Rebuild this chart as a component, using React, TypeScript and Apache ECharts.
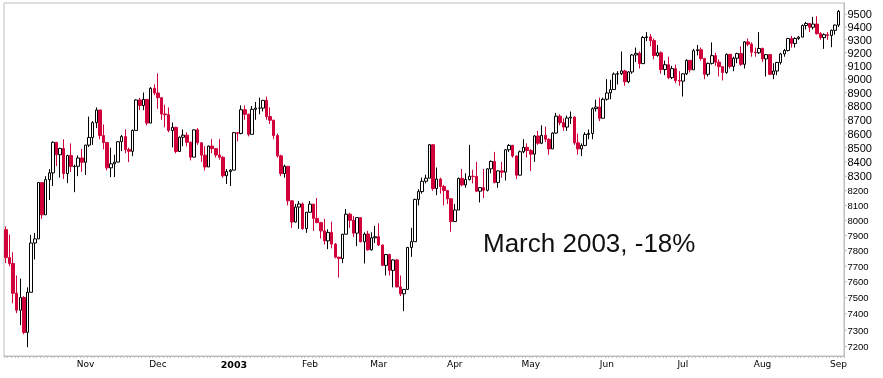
import React, { useEffect, useRef } from "react";
import * as echarts from "echarts";

const dates = [
  "2002-10-02","2002-10-03","2002-10-04","2002-10-07","2002-10-08","2002-10-09","2002-10-10","2002-10-11","2002-10-14","2002-10-15","2002-10-16","2002-10-17","2002-10-18","2002-10-21","2002-10-22","2002-10-23","2002-10-24","2002-10-25","2002-10-28","2002-10-29","2002-10-30","2002-10-31",
  "2002-11-01","2002-11-04","2002-11-05","2002-11-06","2002-11-07","2002-11-08","2002-11-11","2002-11-12","2002-11-13","2002-11-14","2002-11-15","2002-11-18","2002-11-19","2002-11-20","2002-11-21","2002-11-22","2002-11-25","2002-11-26","2002-11-27","2002-11-29",
  "2002-12-02","2002-12-03","2002-12-04","2002-12-05","2002-12-06","2002-12-09","2002-12-10","2002-12-11","2002-12-12","2002-12-13","2002-12-16","2002-12-17","2002-12-18","2002-12-19","2002-12-20","2002-12-23","2002-12-24","2002-12-26","2002-12-27","2002-12-30","2002-12-31",
  "2003-01-02","2003-01-03","2003-01-06","2003-01-07","2003-01-08","2003-01-09","2003-01-10","2003-01-13","2003-01-14","2003-01-15","2003-01-16","2003-01-17","2003-01-21","2003-01-22","2003-01-23","2003-01-24","2003-01-27","2003-01-28","2003-01-29","2003-01-30","2003-01-31",
  "2003-02-03","2003-02-04","2003-02-05","2003-02-06","2003-02-07","2003-02-10","2003-02-11","2003-02-12","2003-02-13","2003-02-14","2003-02-18","2003-02-19","2003-02-20","2003-02-21","2003-02-24","2003-02-25","2003-02-26","2003-02-27","2003-02-28",
  "2003-03-03","2003-03-04","2003-03-05","2003-03-06","2003-03-07","2003-03-10","2003-03-11","2003-03-12","2003-03-13","2003-03-14","2003-03-17","2003-03-18","2003-03-19","2003-03-20","2003-03-21","2003-03-24","2003-03-25","2003-03-26","2003-03-27","2003-03-28","2003-03-31",
  "2003-04-01","2003-04-02","2003-04-03","2003-04-04","2003-04-07","2003-04-08","2003-04-09","2003-04-10","2003-04-11","2003-04-14","2003-04-15","2003-04-16","2003-04-17","2003-04-21","2003-04-22","2003-04-23","2003-04-24","2003-04-25","2003-04-28","2003-04-29","2003-04-30",
  "2003-05-01","2003-05-02","2003-05-05","2003-05-06","2003-05-07","2003-05-08","2003-05-09","2003-05-12","2003-05-13","2003-05-14","2003-05-15","2003-05-16","2003-05-19","2003-05-20","2003-05-21","2003-05-22","2003-05-23","2003-05-27","2003-05-28","2003-05-29","2003-05-30",
  "2003-06-02","2003-06-03","2003-06-04","2003-06-05","2003-06-06","2003-06-09","2003-06-10","2003-06-11","2003-06-12","2003-06-13","2003-06-16","2003-06-17","2003-06-18","2003-06-19","2003-06-20","2003-06-23","2003-06-24","2003-06-25","2003-06-26","2003-06-27","2003-06-30",
  "2003-07-01","2003-07-02","2003-07-03","2003-07-07","2003-07-08","2003-07-09","2003-07-10","2003-07-11","2003-07-14","2003-07-15","2003-07-16","2003-07-17","2003-07-18","2003-07-21","2003-07-22","2003-07-23","2003-07-24","2003-07-25","2003-07-28","2003-07-29","2003-07-30","2003-07-31",
  "2003-08-01","2003-08-04","2003-08-05","2003-08-06","2003-08-07","2003-08-08","2003-08-11","2003-08-12","2003-08-13","2003-08-14","2003-08-15","2003-08-18","2003-08-19","2003-08-20","2003-08-21","2003-08-22","2003-08-25","2003-08-26","2003-08-27","2003-08-28","2003-08-29",
  "2003-09-02",
];

const opens = [
  7938,7755,7717,7528,7422,7501,7286,7534,7850,7877,8256,8037,8276,8323,8538,8450,8494,8318,8444,8368,8369,8427,
  8397,8518,8572,8679,8771,8586,8537,8358,8386,8398,8542,8579,8486,8474,8623,8845,8804,8849,8676,8931,
  8896,8862,8742,8737,8623,8645,8473,8574,8589,8538,8433,8627,8535,8447,8364,8511,8493,8448,8432,8303,8332,
  8342,8607,8601,8773,8740,8595,8776,8785,8785,8842,8723,8697,8586,8442,8318,8369,8131,7989,8089,8110,7945,
  8054,8109,8013,7985,7930,7864,7920,7843,7758,7749,7908,8041,8000,7915,8018,7858,7909,7806,7884,
  7891,7837,7705,7775,7673,7740,7568,7524,7552,7821,7859,8141,8194,8265,8286,8521,8215,8280,8229,8201,8145,
  7992,8069,8285,8240,8277,8300,8298,8197,8221,8203,8351,8403,8257,8337,8328,8485,8516,8441,8307,8471,8502,
  8480,8454,8583,8531,8588,8560,8491,8604,8726,8679,8647,8713,8719,8534,8491,8516,8594,8601,8781,8793,8711,
  8850,8897,8922,9038,9041,9062,8980,9054,9183,9196,9117,9318,9323,9294,9179,9200,9072,9109,9011,9079,8989,
  8985,9040,9142,9070,9216,9223,9156,9036,9119,9178,9128,9094,9050,9188,9096,9158,9194,9112,9284,9266,9204,9200,
  9233,9153,9186,9036,9061,9126,9191,9217,9310,9272,9310,9321,9412,9428,9398,9423,9348,9317,9340,9333,9374,
  9415,
];

const highs = [
  7960,7905,7790,7640,7620,7510,7565,7903,7916,8256,8256,8300,8349,8545,8540,8500,8559,8450,8530,8380,8445,8490,
  8520,8723,8690,8790,8771,8666,8537,8500,8450,8545,8590,8630,8500,8630,8850,8860,8900,8849,8940,8960,
  9043,8862,8810,8790,8680,8650,8580,8630,8610,8545,8630,8640,8535,8510,8515,8560,8495,8560,8440,8350,8350,
  8610,8610,8805,8805,8745,8800,8830,8862,8845,8870,8790,8700,8600,8450,8380,8370,8135,8110,8130,8120,8056,
  8130,8109,8150,7990,8010,7940,7990,7850,7760,7910,8076,8050,8030,8020,8018,7920,7930,7920,7963,
  7980,7840,7775,7780,7745,7745,7640,7555,7825,7950,8145,8210,8290,8310,8525,8521,8360,8290,8240,8205,8150,
  8110,8290,8350,8320,8520,8345,8400,8225,8350,8355,8410,8470,8340,8400,8490,8525,8520,8445,8480,8560,8530,
  8490,8590,8620,8660,8650,8565,8610,8750,8740,8710,8730,8760,8725,8600,8530,8610,8630,8790,8847,8862,8862,
  9000,8995,9050,9060,9210,9070,9060,9190,9240,9210,9330,9360,9345,9310,9260,9210,9140,9170,9100,9110,9060,
  9045,9150,9145,9230,9260,9240,9160,9125,9280,9200,9150,9100,9195,9190,9170,9200,9250,9290,9310,9280,9240,9360,
  9240,9190,9190,9120,9130,9200,9230,9315,9330,9320,9330,9420,9440,9430,9480,9485,9360,9350,9360,9380,9420,
  9535,
];

const lows = [
  7720,7700,7465,7404,7330,7275,7197,7534,7743,7877,8010,8037,8137,8232,8370,8290,8280,8252,8330,8190,8300,8330,
  8309,8505,8520,8640,8560,8488,8340,8294,8294,8398,8475,8460,8398,8440,8623,8770,8770,8660,8676,8880,
  8781,8700,8645,8610,8502,8460,8473,8510,8510,8410,8433,8520,8400,8340,8364,8460,8430,8415,8290,8246,8232,
  8342,8545,8595,8700,8580,8595,8700,8740,8760,8700,8670,8560,8430,8300,8290,8100,7950,7985,7944,7937,7917,
  8050,7930,7980,7880,7840,7810,7815,7750,7627,7720,7908,7950,7890,7830,7855,7717,7800,7800,7850,
  7830,7700,7640,7640,7565,7565,7510,7416,7552,7760,7859,8100,8180,8250,8286,8200,8170,8180,8100,8110,7924,
  7990,8069,8230,8220,8270,8250,8190,8120,8150,8195,8320,8250,8220,8290,8270,8470,8430,8280,8307,8460,8430,
  8336,8400,8520,8525,8540,8450,8491,8600,8660,8620,8620,8670,8520,8450,8440,8510,8560,8560,8760,8690,8711,
  8840,8850,8920,8960,9030,8950,8970,9040,9130,9080,9117,9290,9250,9150,9170,9040,9030,9000,9000,8970,8950,
  8870,9030,9050,9070,9180,9140,9000,9020,9110,9100,9020,8990,9040,9080,9060,9120,9100,9080,9250,9170,9170,9190,
  9130,9020,9030,9000,9030,9110,9170,9210,9240,9240,9300,9320,9380,9360,9380,9340,9300,9230,9300,9243,9340,
  9400,
];

const closes = [
  7755,7717,7528,7422,7501,7286,7534,7850,7877,8256,8037,8276,8323,8538,8450,8494,8318,8444,8368,8369,8427,8397,
  8518,8572,8679,8771,8586,8537,8358,8386,8398,8542,8579,8486,8474,8623,8845,8804,8849,8676,8931,8896,
  8862,8742,8737,8623,8645,8473,8574,8589,8538,8433,8627,8535,8447,8364,8511,8493,8448,8432,8303,8332,8342,
  8607,8601,8773,8740,8595,8776,8785,8785,8842,8723,8697,8586,8442,8318,8369,8131,7989,8089,8110,7945,8054,
  8109,8013,7985,7930,7864,7920,7843,7758,7749,7908,8041,8000,7915,8018,7858,7909,7806,7884,7891,
  7837,7705,7775,7673,7740,7568,7524,7552,7821,7859,8141,8194,8265,8286,8521,8215,8280,8229,8201,8145,7992,
  8069,8285,8240,8277,8300,8298,8197,8221,8203,8351,8403,8257,8337,8328,8485,8516,8441,8307,8471,8502,8480,
  8454,8583,8531,8588,8560,8491,8604,8726,8679,8647,8713,8719,8534,8491,8516,8594,8601,8781,8793,8711,8850,
  8897,8922,9038,9041,9062,8980,9054,9183,9196,9117,9318,9323,9294,9179,9200,9072,9109,9011,9079,8989,8985,
  9040,9142,9070,9216,9223,9156,9036,9119,9178,9128,9094,9050,9188,9096,9158,9194,9112,9284,9266,9204,9200,9233,
  9153,9186,9036,9061,9126,9191,9217,9310,9272,9310,9321,9412,9428,9398,9423,9348,9317,9340,9333,9374,9415,
  9523,
];

const yTicks = [9500, 9400, 9300, 9200, 9100, 9000, 8900, 8800, 8700, 8600, 8500, 8400, 8300, 8200, 8100, 8000, 7900, 7800, 7700, 7600, 7500, 7400, 7300, 7200];
const monthNames = ["Jan", "Feb", "Mar", "Apr", "May", "Jun", "Jul", "Aug", "Sep", "Oct", "Nov", "Dec"];
const annotation = "March 2003, -18%";

const UP_BORDER = "#000000";
const DOWN = "#d2003a";
const FRAME = "#bdbdbd";

export default function App() {
  const ref = useRef<HTMLDivElement>(null);
  useEffect(() => {
    const chart = echarts.init(ref.current as HTMLDivElement, null, { renderer: "svg" });
    const candles = dates.map((_, i) => [opens[i], closes[i], lows[i], highs[i]]);
    const categories = [...dates, ""];
    const monthStart = new Set<number>();
    for (let i = 1; i < dates.length; i++) {
      if (dates[i].slice(5, 7) !== dates[i - 1].slice(5, 7)) monthStart.add(i);
    }
    chart.setOption({
      animation: false,
      grid: {
        left: 4,
        right: 39,
        top: 3,
        bottom: 22,
        show: true,
        borderColor: FRAME,
        borderWidth: 1,
        backgroundColor: "transparent",
        containLabel: false,
      },
      xAxis: {
        type: "category",
        data: categories,
        boundaryGap: true,
        axisLine: { show: true, lineStyle: { color: FRAME, width: 1 } },
        axisTick: { show: true, interval: 0, length: 2, lineStyle: { color: FRAME, width: 1 } },
        axisLabel: {
          interval: (i: number) => monthStart.has(i),
          formatter: (v: string) => {
            if (!v) return "";
            const m = parseInt(v.slice(5, 7), 10);
            if (m === 1) return "{b|" + v.slice(0, 4) + "}";
            return monthNames[m - 1];
          },
          margin: 3,
          fontSize: 9,
          fontFamily: "DejaVu Sans",
          color: "#000",
          rich: { b: { fontWeight: "bold", fontSize: 9.5, fontFamily: "DejaVu Sans", color: "#000" } },
        },
        splitLine: { show: false },
      },
      yAxis: {
        type: "log",
        logBase: 10,
        position: "right",
        min: 7144,
        max: 9590,
        axisLine: { show: true, lineStyle: { color: FRAME, width: 1 } },
        axisTick: { show: false },
        axisLabel: { show: false },
        splitLine: { show: false },
      },
      series: [
        {
          type: "candlestick",
          data: candles,
          barWidth: 3,
          itemStyle: {
            color: "#ffffff",
            color0: DOWN,
            borderColor: UP_BORDER,
            borderColor0: DOWN,
            borderWidth: 1,
          },
        },
        {
          type: "custom",
          silent: true,
          clip: false,
          z: 10,
          data: yTicks.map((v) => [0, v]),
          renderItem: (params: any, api: any) => {
            const v = api.value(1);
            const pt = api.coord([0, v]);
            const cs = params.coordSys;
            const xr = cs.x + cs.width;
            const big = v >= 8300;
            return {
              type: "group",
              children: [
                { type: "line", shape: { x1: xr, y1: pt[1], x2: xr + 3, y2: pt[1] }, style: { stroke: FRAME, lineWidth: 1 } },
                {
                  type: "text",
                  x: xr + 3.5,
                  y: pt[1],
                  style: {
                    text: String(v),
                    fill: "#000",
                    font: (big ? "11px" : "9.5px") + " 'Liberation Sans', Arial, sans-serif",
                    align: "left",
                    verticalAlign: "middle",
                  },
                },
              ],
            };
          },
        },
      ],
      graphic: [
        {
          type: "text",
          x: 483,
          y: 243,
          silent: true,
          style: {
            text: annotation,
            fill: "#111111",
            font: "26px 'Liberation Sans', Arial, sans-serif",
            align: "left",
            verticalAlign: "middle",
          },
        },
      ],
    });
    return () => chart.dispose();
  }, []);
  return <div ref={ref} style={{ position: "fixed", left: 0, top: 0, width: 883, height: 378 }} />;
}
